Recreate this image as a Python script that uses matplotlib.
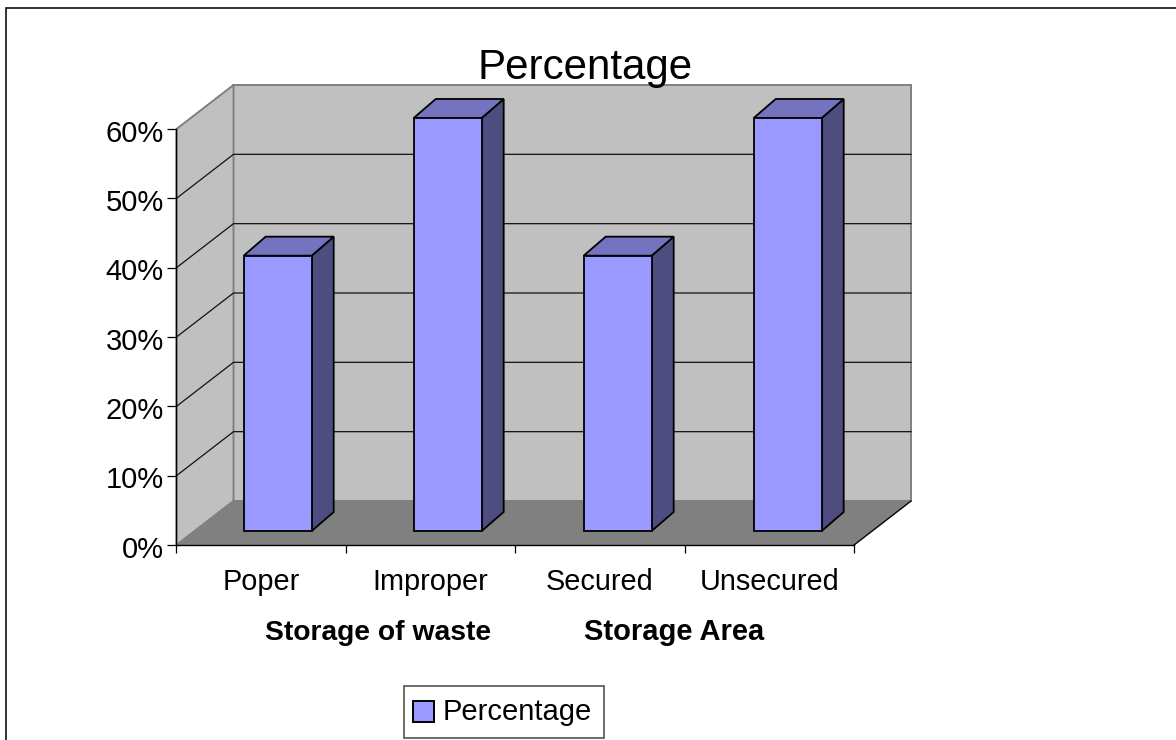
import matplotlib
matplotlib.use("Agg")
from matplotlib import pyplot as plt
from matplotlib.patches import Polygon, Rectangle
from matplotlib.transforms import ScaledTranslation

categories = ["Poper", "Improper", "Secured", "Unsecured"]
values = [0.40, 0.60, 0.40, 0.60]
y_ticks = [0, 0.1, 0.2, 0.3, 0.4, 0.5, 0.6]
y_labels = ["0%", "10%", "20%", "30%", "40%", "50%", "60%"]
group_labels = ["Storage of waste", "Storage Area"]
title = "Percentage"
legend_label = "Percentage"

W, H = 1176, 740
plt.rcParams["font.family"] = ["Liberation Sans", "DejaVu Sans"]

fig = plt.figure(figsize=(W / 100, H / 100), dpi=100, facecolor="white")


def px_rect(x0, y0, x1, y1, **kw):
    # rectangle given in image pixels, y measured from the top
    return Rectangle((x0 / W, 1 - y1 / H), (x1 - x0) / W, (y1 - y0) / H,
                     transform=fig.transFigure, **kw)


# outer chart border, the right and bottom edges fall outside the image
fig.add_artist(px_rect(5.5, 7.5, W + 10, H + 10, fc="none", ec="#111111", lw=1.2))

L, R, B, T = 176.5, 854, 545, 129
ax = fig.add_axes([L / W, 1 - B / H, (R - L) / W, (B - T) / H])
ax.set_xlim(0, 4)
ax.set_ylim(0, 0.6)
ax.patch.set_visible(False)
for s in ax.spines.values():
    s.set_visible(False)

# pixel to data sizes for the fake 3d depth
px_x = 4 / (R - L)
px_y = 0.6 / (B - T)
dx = 57 * px_x
dy = 44 * px_y


def poly(points, fc, ec="black", lw=1.0, z=1):
    ax.add_patch(Polygon(points, closed=True, fc=fc, ec=ec, lw=lw, zorder=z, clip_on=False,
                         joinstyle="miter"))


# walls and floor
poly([(dx, dy), (4 + dx, dy), (4 + dx, 0.6 + dy), (dx, 0.6 + dy)], "#c0c0c0", ec="#808080", lw=1.4)
poly([(0, 0), (dx, dy), (dx, 0.6 + dy), (0, 0.6)], "#c0c0c0", ec="#808080", lw=1.4)
poly([(0, 0), (4, 0), (4 + dx, dy), (dx, dy)], "#808080", ec="#808080", lw=1.0)

# gridlines on both walls
for t in y_ticks[1:-1]:
    ax.plot([0, dx, 4 + dx], [t, t + dy, t + dy], color="#111111", lw=0.9, zorder=2, clip_on=False)
ax.plot([4, 4 + dx], [0, dy], color="black", lw=0.9, zorder=2, clip_on=False)

# bars
bar_w = 68 * px_x
bar_dx = 22 * px_x
bar_dy = 19 * px_y
bar_step = 170 * px_x
off_x = 16.5 * px_x
off_y = 14 * px_y
bar_scale = 413 / 416  # bars sit a little deeper than the front plane
for i, v in enumerate(values):
    x0 = 0.5 + off_x - bar_w / 2 + i * bar_step
    x1 = x0 + bar_w
    y0 = off_y
    y1 = off_y + v * bar_scale
    poly([(x1, y0), (x1 + bar_dx, y0 + bar_dy), (x1 + bar_dx, y1 + bar_dy), (x1, y1)], "#4d4d80", lw=1.3, z=3)
    poly([(x0, y1), (x1, y1), (x1 + bar_dx, y1 + bar_dy), (x0 + bar_dx, y1 + bar_dy)], "#7373bf", lw=1.3, z=3)
    poly([(x0, y0), (x1, y0), (x1, y1), (x0, y1)], "#9999ff", lw=1.3, z=4)

# axes
ax.set_yticks(y_ticks, y_labels)
ax.set_xticks(range(5), [""] * 5)
ax.tick_params(axis="y", labelsize=21, length=6.5, width=0.9, pad=2.5)
ax.tick_params(axis="x", length=5.5, width=0.9)
# the percent labels hang slightly below their ticks
for lab in ax.get_yticklabels():
    lab.set_transform(lab.get_transform() + ScaledTranslation(0, -1.5 / 100, fig.dpi_scale_trans))
ax.plot([0, 4], [0, 0], color="black", lw=1.0, zorder=5, clip_on=False)
ax.plot([0, 0], [0, 0.6], color="black", lw=1.0, zorder=5, clip_on=False)

for i, c in enumerate(categories):
    ax.annotate(c, (i + 0.5, 0), xytext=(0, -45), textcoords="offset pixels",
                ha="center", va="baseline", fontsize=20.8)
ax.annotate(group_labels[0], (1, 0), xytext=(32, -95), textcoords="offset pixels",
            ha="center", va="baseline", fontsize=20.3, fontweight="bold")
ax.annotate(group_labels[1], (3, 0), xytext=(-11, -95), textcoords="offset pixels",
            ha="center", va="baseline", fontsize=21, fontweight="bold")

fig.text(585 / W, 1 - 79 / H, title, ha="center", va="baseline", fontsize=30.3)

# legend box, placed by hand to get the same margins
fig.add_artist(px_rect(403.5, 686, 604, 738, fc="white", ec="#444444", lw=1.1))
fig.add_artist(px_rect(413, 701, 434, 722, fc="#9999ff", ec="black", lw=1.4))
fig.text(443 / W, 1 - 720 / H, legend_label, ha="left", va="baseline", fontsize=21)

fig.savefig("out.png", dpi=100)
